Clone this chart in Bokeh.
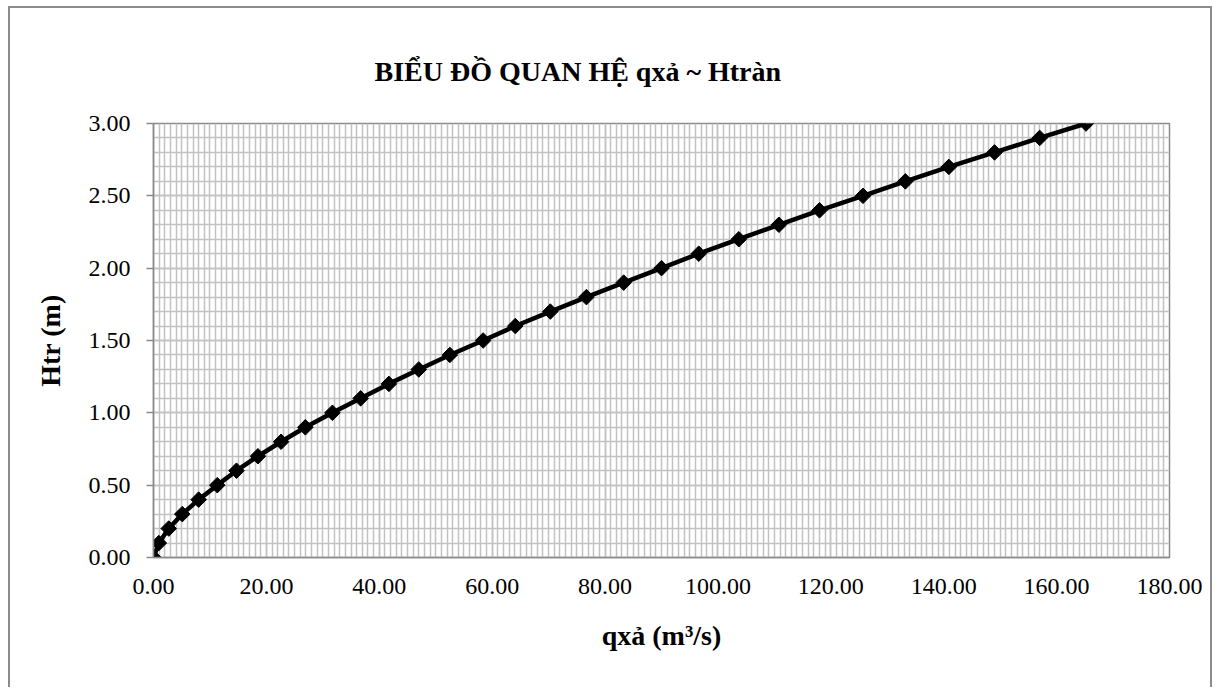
import math
from bokeh.plotting import figure
from bokeh.models import (Range1d, SingleIntervalTicker, PrintfTickFormatter,
                          ColumnDataSource)
from bokeh.embed import file_html
from bokeh.resources import INLINE

# ---- data ----
h_tran = [0.0, 0.1, 0.2, 0.3, 0.4, 0.5, 0.6, 0.7, 0.8, 0.9, 1.0,
          1.1, 1.2, 1.3, 1.4, 1.5, 1.6, 1.7, 1.8, 1.9, 2.0,
          2.1, 2.2, 2.3, 2.4, 2.5, 2.6, 2.7, 2.8, 2.9, 3.0]
q_xa = [0.0, 0.95, 2.7, 5.1, 8.0, 11.3, 14.7, 18.5, 22.6, 26.9, 31.7,
        36.7, 41.7, 47.0, 52.5, 58.4, 64.1, 70.3, 76.7, 83.3, 90.0,
        96.6, 103.7, 110.8, 118.0, 125.7, 133.2, 140.9, 149.0, 157.0, 165.2]

title_text = "BIỂU ĐỒ QUAN HỆ qxả ~ Htràn"
x_label = "qxả (m³/s)"
y_label = "Htr (m)"

SERIF = "Liberation Serif"
FRAME = "#8a8a8a"
GRID = "#c2c2c2"

src = ColumnDataSource(dict(q=q_xa, h=h_tran))

p = figure(width=1204, height=681, output_backend="svg", toolbar_location=None,
           x_range=Range1d(0, 180), y_range=Range1d(0, 3),
           min_border_left=143, min_border_right=45,
           min_border_top=115, min_border_bottom=132,
           background_fill_color="white", border_fill_color="white")
p.styles = {"margin-left": "8px", "margin-top": "6px",
            "border-left": "2px solid #8c8c8c", "border-top": "2px solid #8c8c8c",
            "border-right": "2px solid #8c8c8c"}
p.outline_line_color = FRAME
p.outline_line_width = 1.5

# title
p.title.text = title_text
p.title.text_font = SERIF
p.title.text_font_size = "28px"
p.title.text_font_style = "bold"
p.title.text_color = "black"
p.title.align = "left"
p.title.offset = 221
p.title.standoff = 74

# axes
p.xaxis.ticker = SingleIntervalTicker(interval=20, num_minor_ticks=20)
p.yaxis.ticker = SingleIntervalTicker(interval=0.5, num_minor_ticks=5)
p.xaxis.formatter = PrintfTickFormatter(format="%.2f")
p.yaxis.formatter = PrintfTickFormatter(format="%.2f")
for ax in (p.xaxis, p.yaxis):
    ax.axis_line_color = FRAME
    ax.axis_line_width = 1.5
    ax.major_tick_line_color = FRAME
    ax.major_tick_line_width = 1.5
    ax.minor_tick_line_color = None
    ax.major_label_text_font = SERIF
    ax.major_label_text_font_size = "24px"
    ax.major_label_text_color = "black"
    ax.axis_label_text_font = SERIF
    ax.axis_label_text_font_size = "28px"
    ax.axis_label_text_font_style = "bold"
    ax.axis_label_text_color = "black"
p.xaxis.axis_label = x_label
p.yaxis.axis_label = y_label
p.xaxis.major_tick_out = 0
p.xaxis.major_tick_in = 0
p.xaxis.major_label_standoff = 17
p.xaxis.axis_label_standoff = 23
p.yaxis.major_tick_out = 7
p.yaxis.major_tick_in = 0
p.yaxis.major_label_standoff = 16
p.yaxis.axis_label_standoff = 20

# grids (major + minor look the same)
for g in (p.xgrid, p.ygrid):
    g.grid_line_color = GRID
    g.grid_line_width = 1.5
    g.minor_grid_line_color = GRID
    g.minor_grid_line_width = 1.5

# series
p.line("q", "h", source=src, line_color="black", line_width=4.5)
p.scatter("q", "h", source=src, marker="square", angle=math.pi / 4, size=11,
          fill_color="black", line_color="black")

open("out.html", "w").write(file_html(p, INLINE))
